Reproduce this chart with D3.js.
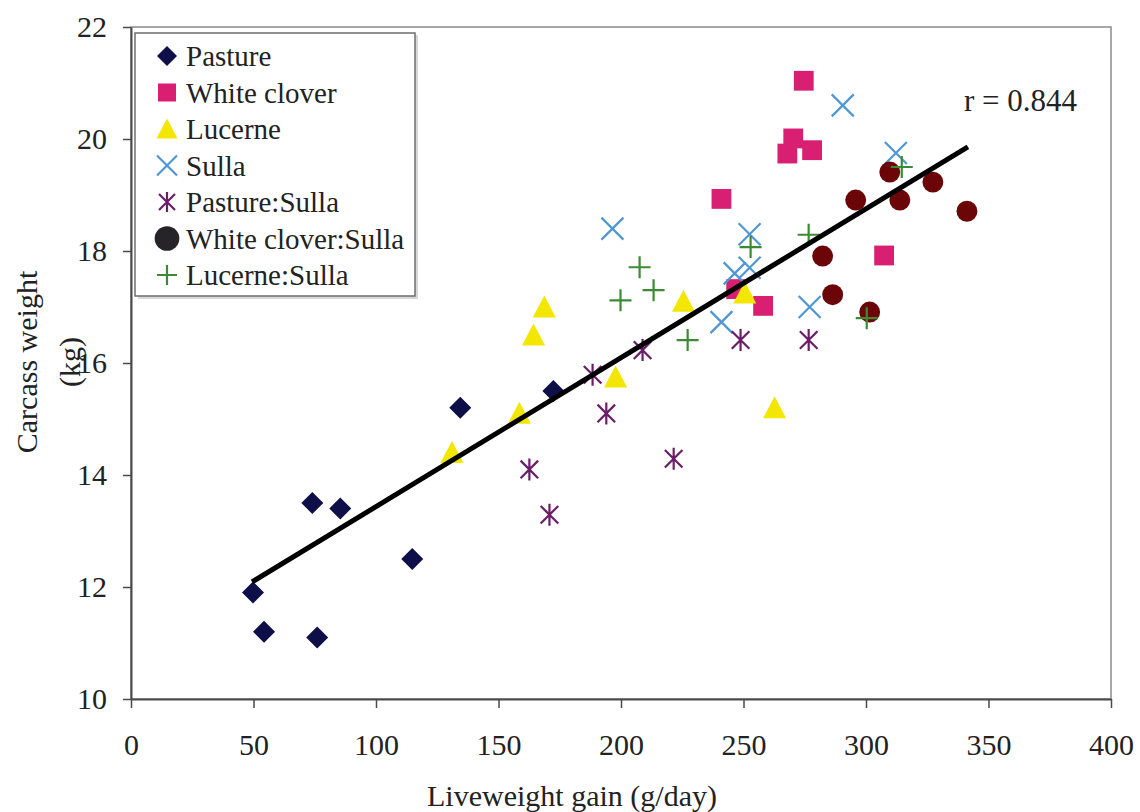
<!DOCTYPE html>
<html>
<head>
<meta charset="utf-8">
<script src="https://cdn.jsdelivr.net/npm/d3@7"></script>
<style>
  body { margin: 0; background: #fff; }
  svg text { font-family: "Liberation Serif", "DejaVu Serif", serif; fill: #222; }
</style>
</head>
<body>
<svg id="chart"></svg>
<script>
// axis ticks
const xTicks = [0, 50, 100, 150, 200, 250, 300, 350, 400];
const yTicks = [10, 12, 14, 16, 18, 20, 22];

// series (liveweight gain g/day, carcass weight kg)
const pastureX = [49.8, 54.3, 76, 74, 85.4, 114.8, 134.4, 172.4];
const pastureY = [11.9, 11.2, 11.1, 13.5, 13.4, 12.5, 15.2, 15.5];

const whiteCloverX = [274.6, 270.3, 267.9, 278, 241, 307.4, 258, 247];
const whiteCloverY = [21.04, 20.01, 19.74, 19.8, 18.93, 17.92, 17.02, 17.32];

const lucerneX = [131, 158.5, 164.3, 168.7, 197.8, 225.5, 250.5, 262.7];
const lucerneY = [14.4, 15.1, 16.5, 17.0, 15.75, 17.1, 17.25, 15.2];

const sullaX = [196.5, 290.5, 312.2, 252.5, 252.5, 246.4, 277, 241];
const sullaY = [18.4, 20.6, 19.75, 18.3, 17.7, 17.6, 17.0, 16.73];

const pastureSullaX = [188.4, 194, 208.8, 162.6, 170.8, 221.5, 248.8, 276.6];
const pastureSullaY = [15.79, 15.1, 16.23, 14.1, 13.29, 14.29, 16.41, 16.41];

const wcSullaX = [295.8, 282.3, 286.4, 301.5, 309.7, 313.8, 327.3, 341.2];
const wcSullaY = [18.91, 17.91, 17.22, 16.91, 19.41, 18.91, 19.23, 18.71];

const lucSullaX = [207.6, 199.8, 213.3, 227.2, 276.6, 252.9, 300.3, 314.6];
const lucSullaY = [17.71, 17.12, 17.3, 16.41, 18.29, 18.07, 16.8, 19.5];

// regression line end points
const trendX = [49.4, 341.6];
const trendY = [12.09, 19.86];
const rLabel = 'r = 0.844';

const seriesNames = ['Pasture', 'White clover', 'Lucerne', 'Sulla',
  'Pasture:Sulla', 'White clover:Sulla', 'Lucerne:Sulla'];

let w = 1140;
let h = 812;
let margin = {top: 27, right: 29, bottom: 113, left: 131};

let svg = d3.select('#chart')
  .attr('width', w)
  .attr('height', h);

let xScale = d3.scaleLinear()
  .domain([0, 400])
  .range([margin.left, w - margin.right]);

let yScale = d3.scaleLinear()
  .domain([10, 22])
  .range([h - margin.bottom, margin.top]);

// marker shapes, s = half size
function markerPath(shape, s) {
  let p = d3.path();
  if (shape === 'diamond') {
    p.moveTo(0, -s); p.lineTo(s, 0); p.lineTo(0, s); p.lineTo(-s, 0); p.closePath();
  } else if (shape === 'square') {
    p.rect(-s * 0.9, -s * 0.9, s * 1.8, s * 1.8);
  } else if (shape === 'triangle') {
    p.moveTo(0, -s * 1.05); p.lineTo(s * 1.05, s * 0.95); p.lineTo(-s * 1.05, s * 0.95); p.closePath();
  } else if (shape === 'circle') {
    p.arc(0, 0, s * 0.95, 0, 2 * Math.PI);
  } else if (shape === 'x') {
    p.moveTo(-s, -s); p.lineTo(s, s); p.moveTo(s, -s); p.lineTo(-s, s);
  } else if (shape === 'asterisk') {
    p.moveTo(-s * 0.8, -s * 0.8); p.lineTo(s * 0.8, s * 0.8);
    p.moveTo(s * 0.8, -s * 0.8); p.lineTo(-s * 0.8, s * 0.8);
    p.moveTo(0, -s); p.lineTo(0, s);
  } else if (shape === 'plus') {
    p.moveTo(-s, 0); p.lineTo(s, 0); p.moveTo(0, -s); p.lineTo(0, s);
  }
  return p.toString();
}

let series = [
  {name: seriesNames[0], xs: pastureX, ys: pastureY, shape: 'diamond', color: '#0e0e48', filled: true},
  {name: seriesNames[1], xs: whiteCloverX, ys: whiteCloverY, shape: 'square', color: '#d81f71', filled: true},
  {name: seriesNames[2], xs: lucerneX, ys: lucerneY, shape: 'triangle', color: '#f3e600', filled: true},
  {name: seriesNames[3], xs: sullaX, ys: sullaY, shape: 'x', color: '#4f97d4', filled: false},
  {name: seriesNames[4], xs: pastureSullaX, ys: pastureSullaY, shape: 'asterisk', color: '#6c1d68', filled: false},
  {name: seriesNames[5], xs: wcSullaX, ys: wcSullaY, shape: 'circle', color: '#6b0508', filled: true, legendColor: '#262428'},
  {name: seriesNames[6], xs: lucSullaX, ys: lucSullaY, shape: 'plus', color: '#3d8a35', filled: false}
];

function styleMarker(sel, d, color) {
  if (d.filled) {
    sel.attr('fill', color).attr('stroke', 'none');
  } else {
    sel.attr('fill', 'none').attr('stroke', color).attr('stroke-width', 2.2);
  }
}

// plot frame (top and right)
svg.append('rect')
  .attr('x', margin.left)
  .attr('y', margin.top)
  .attr('width', w - margin.left - margin.right)
  .attr('height', h - margin.top - margin.bottom)
  .attr('fill', 'none')
  .attr('stroke', '#8a8a8a')
  .attr('stroke-width', 1.5);

// AXES
let xAxis = d3.axisBottom(xScale).tickValues(xTicks).tickSize(9).tickSizeOuter(0).tickPadding(26);
let yAxis = d3.axisLeft(yScale).tickValues(yTicks).tickSize(8).tickSizeOuter(0).tickPadding(16);

let gx = svg.append('g')
  .attr('transform', `translate(0, ${h - margin.bottom})`)
  .call(xAxis);
let gy = svg.append('g')
  .attr('transform', `translate(${margin.left}, 0)`)
  .call(yAxis);

[gx, gy].forEach((g) => {
  g.select('.domain').attr('stroke', '#4a4a4a').attr('stroke-width', 2);
  g.selectAll('.tick line').attr('stroke', '#4a4a4a').attr('stroke-width', 1.5);
  g.selectAll('.tick text')
    .attr('fill', '#222')
    .style('font-family', '"Liberation Serif", serif')
    .style('font-size', '30px');
});

// markers
series.forEach((s) => {
  let pts = s.xs.map((x, i) => ({x: x, y: s.ys[i]}));
  let g = svg.append('g');
  g.selectAll('path')
    .data(pts)
    .enter()
    .append('path')
    .attr('transform', (d) => `translate(${xScale(d.x)}, ${yScale(d.y)})`)
    .attr('d', markerPath(s.shape, 11))
    .each(function () { styleMarker(d3.select(this), s, s.color); });
});

// trend line
svg.append('line')
  .attr('x1', xScale(trendX[0]))
  .attr('y1', yScale(trendY[0]))
  .attr('x2', xScale(trendX[1]))
  .attr('y2', yScale(trendY[1]))
  .attr('stroke', '#000')
  .attr('stroke-width', 5);

svg.append('text')
  .attr('x', xScale(340))
  .attr('y', yScale(20.5))
  .style('font-size', '31px')
  .text(rLabel);

// legend
let legend = svg.append('g');
legend.append('rect')
  .attr('x', 138).attr('y', 35)
  .attr('width', 280).attr('height', 264)
  .attr('fill', '#d8d8d8');
legend.append('rect')
  .attr('x', 135).attr('y', 33)
  .attr('width', 280).attr('height', 263)
  .attr('fill', '#fff')
  .attr('stroke', '#6e6e6e')
  .attr('stroke-width', 1.5);

series.forEach((s, i) => {
  let ly = 56 + i * 36.5;
  let m = legend.append('path')
    .attr('transform', `translate(167, ${ly})`)
    .attr('d', markerPath(s.shape, s.shape === 'circle' ? 13 : 10));
  styleMarker(m, s, s.legendColor || s.color);
  legend.append('text')
    .attr('x', 186)
    .attr('y', ly)
    .attr('dy', '0.35em')
    .style('font-size', '29px')
    .text(s.name);
});

// axis titles
svg.append('text')
  .attr('x', xScale(180))
  .attr('y', 806)
  .style('text-anchor', 'middle')
  .style('font-size', '30px')
  .text('Liveweight gain (g/day)');

svg.append('text')
  .attr('transform', 'translate(37, 362) rotate(-90)')
  .style('text-anchor', 'middle')
  .style('font-size', '30px')
  .text('Carcass weight');
svg.append('text')
  .attr('transform', 'translate(80, 362) rotate(-90)')
  .style('text-anchor', 'middle')
  .style('font-size', '30px')
  .text('(kg)');
</script>
</body>
</html>
